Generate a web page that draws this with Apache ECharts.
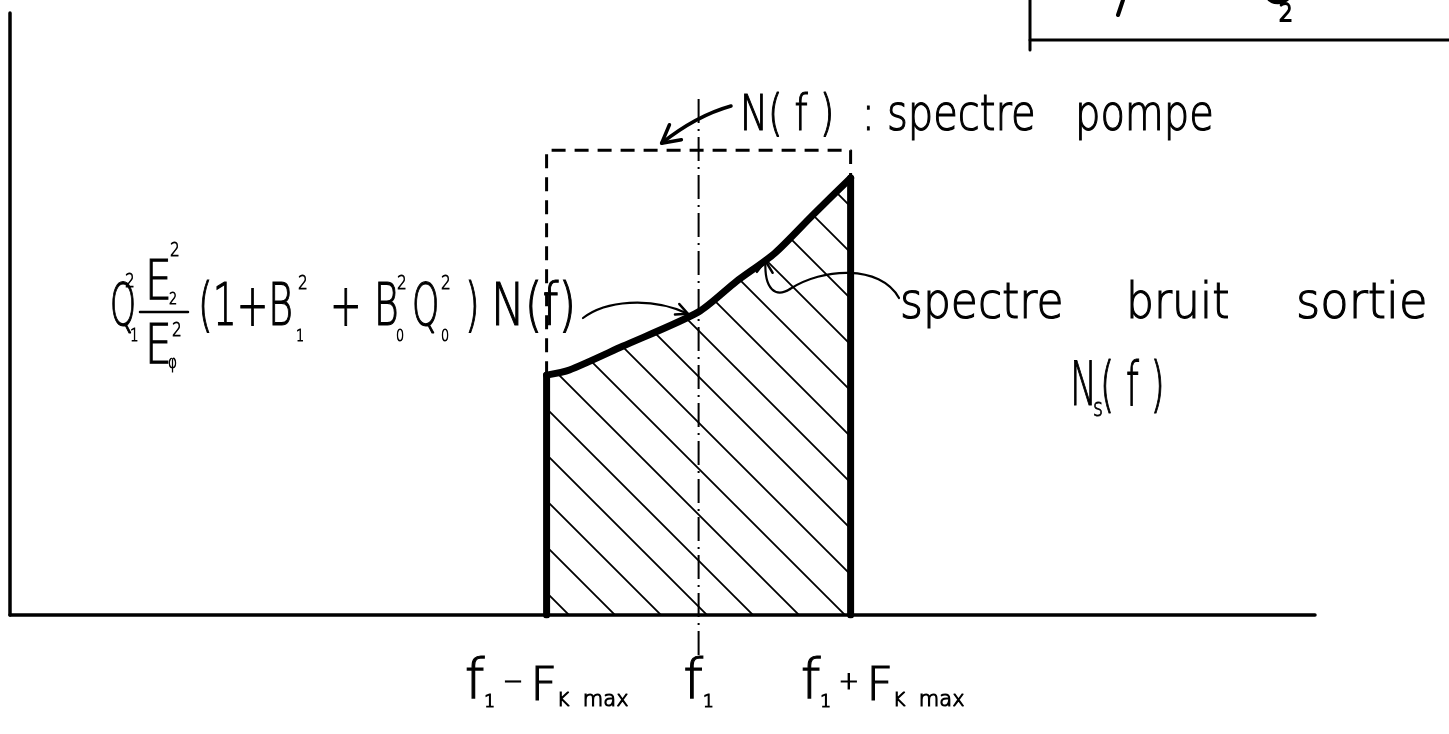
<!DOCTYPE html>
<html>
<head>
<meta charset="utf-8">
<script src="https://cdn.jsdelivr.net/npm/echarts@6/dist/echarts.min.js"></script>
<style>
  html, body { margin: 0; padding: 0; background: #fff; }
  #chart { width: 1449px; height: 734px; }
</style>
</head>
<body>
<div id="chart"></div>
<script>
// Frequency in units of F_K max, measured from the pump frequency f1
const bandEdges = [-1, 1];
// Output noise spectrum N_s(f) over the band (pump level = 1)
const noiseFreq  = [-1, -0.85, -0.5, 0, 0.25, 0.5, 0.75, 1];
const noiseLevel = [0.516, 0.527, 0.578, 0.652, 0.718, 0.778, 0.860, 0.940];
// Pump spectrum N(f): flat over the band
const pumpLevel = 1;
// Centre line through f1 (extends a little past both axes)
const centreLine = [-0.086, 1.118];
// Frequency-axis ticks and their labels
const tickValues = [-1, 0, 1];
const tickLabels = [
  '{f|f}{s|1}{op| − }{F|F}{k|K}{m|  max}',
  '{f|f}{s|1}',
  '{pad|}{f|f}{s|1}{op| + }{F|F}{k|K}{m|  max}'
];

const FONT = '"DejaVu Sans"';
const WEIGHT = 200;
const chart = echarts.init(document.getElementById('chart'), null, { renderer: 'canvas' });

// diagonal hatching tile for the output-noise area
function hatchTile(step, width) {
  const c = document.createElement('canvas');
  c.width = c.height = step;
  const g = c.getContext('2d');
  g.strokeStyle = '#000';
  g.lineWidth = width;
  g.beginPath();
  g.moveTo(-3, -3); g.lineTo(step + 3, step + 3);
  g.moveTo(-3, step - 3); g.lineTo(3, step + 3);
  g.moveTo(step - 3, -3); g.lineTo(step + 3, 3);
  g.stroke();
  return c;
}

const noiseData = noiseFreq.map((f, i) => [f, noiseLevel[i]]);
const first = noiseLevel[0], last = noiseLevel[noiseLevel.length - 1];

const richBase = { fontFamily: FONT, fontWeight: WEIGHT, color: '#000', textBorderColor: '#000', textBorderWidth: 1.2 };

chart.setOption({
  animation: false,
  backgroundColor: '#fff',
  grid: { left: 10, right: 134, top: 13, bottom: 119, containLabel: false },
  xAxis: {
    type: 'value', min: -4.53, max: 4.055,
    axisLine: { show: true, onZero: false, lineStyle: { color: '#000', width: 3.5 } },
    axisTick: { show: false },
    splitLine: { show: false },
    axisLabel: {
      show: true,
      customValues: tickValues,
      margin: 40,
      formatter: v => tickLabels[tickValues.indexOf(v)] || '',
      rich: {
        f:  Object.assign({ fontSize: 56, lineHeight: 56 }, richBase),
        s:  Object.assign({ fontSize: 17, lineHeight: 17, verticalAlign: 'bottom' }, richBase),
        op: Object.assign({ fontSize: 24 }, richBase),
        F:  Object.assign({ fontSize: 46, lineHeight: 46, verticalAlign: 'bottom' }, richBase),
        k:  Object.assign({ fontSize: 19, lineHeight: 19, verticalAlign: 'bottom' }, richBase),
        m:  Object.assign({ fontSize: 21, lineHeight: 21, verticalAlign: 'bottom' }, richBase),
        pad: { width: 64 }
      }
    }
  },
  yAxis: {
    type: 'value', min: 0, max: 1.295,
    axisLine: { show: true, onZero: false, lineStyle: { color: '#000', width: 3.5 } },
    axisTick: { show: false },
    axisLabel: { show: false },
    splitLine: { show: false }
  },
  series: [
    {
      name: 'N_s(f)', type: 'line', data: noiseData, smooth: 0.25,
      symbol: 'none', z: 4,
      lineStyle: { color: '#000', width: 7, cap: 'round', join: 'round' },
      areaStyle: { color: { image: hatchTile(46, 1.8), repeat: 'repeat' }, opacity: 1, origin: 'start' }
    },
    {
      name: 'band edges', type: 'line', symbol: 'none', z: 5,
      data: [[bandEdges[0], 0], [bandEdges[0], first]],
      lineStyle: { color: '#000', width: 7, cap: 'round' }
    },
    {
      name: 'band edges', type: 'line', symbol: 'none', z: 5,
      data: [[bandEdges[1], 0], [bandEdges[1], last]],
      lineStyle: { color: '#000', width: 7, cap: 'round' }
    },
    {
      name: 'N(f)', type: 'line', symbol: 'none', z: 3,
      data: [[bandEdges[0], first], [bandEdges[0], pumpLevel], [bandEdges[1], pumpLevel], [bandEdges[1], last]],
      lineStyle: { color: '#000', width: 3, type: [14, 9] }
    },
    {
      name: 'f1', type: 'line', symbol: 'none', z: 3, clip: false,
      data: [[0, centreLine[0]], [0, centreLine[1]]],
      lineStyle: { color: '#000', width: 2, type: [24, 6, 2, 6] }
    }
  ]
});

const P = v => chart.convertToPixel({ gridIndex: 0 }, v);

function txt(x, y, text, size, sx, bw) {
  return {
    type: 'text', x: x, y: y, scaleX: sx || 1, silent: true, z: 10,
    style: {
      text: text, x: 0, y: 0, fill: '#000',
      stroke: '#000', lineWidth: bw === undefined ? 1.2 : bw,
      font: WEIGHT + ' ' + size + 'px ' + FONT,
      align: 'left', verticalAlign: 'middle', textAlign: 'left', textVerticalAlign: 'middle'
    }
  };
}
function seg(x1, y1, x2, y2, w) {
  return { type: 'line', silent: true, z: 10, shape: { x1, y1, x2, y2 },
           style: { stroke: '#000', lineWidth: w, lineCap: 'round' } };
}
function curve(p0, c1, c2, p1, w) {
  return { type: 'bezierCurve', silent: true, z: 10,
           shape: { x1: p0[0], y1: p0[1], cpx1: c1[0], cpy1: c1[1], cpx2: c2[0], cpy2: c2[1], x2: p1[0], y2: p1[1] },
           style: { stroke: '#000', lineWidth: w, fill: null, lineCap: 'round' } };
}
function head(tip, from, len, spread, w) {
  const a = Math.atan2(tip[1] - from[1], tip[0] - from[0]);
  const p1 = [tip[0] - len * Math.cos(a - spread), tip[1] - len * Math.sin(a - spread)];
  const p2 = [tip[0] - len * Math.cos(a + spread), tip[1] - len * Math.sin(a + spread)];
  return { type: 'polyline', silent: true, z: 10, shape: { points: [p1, tip, p2] },
           style: { stroke: '#000', lineWidth: w, fill: null, lineJoin: 'round', lineCap: 'round' } };
}

// arrow targets on the drawn marks
const pumpTip  = P([-0.243, pumpLevel + 0.015]);
const midTip   = P([-0.07, 0.648]);
const noiseTip = P([0.44, 0.762]);

const g = [];
// pump label and arrow
g.push(txt(740, 117, 'N( f )', 50, 0.75));
g.push(txt(862, 117, ':', 50, 0.75));
g.push(txt(887, 117, 'spectre', 50, 0.8));
g.push(txt(1075, 117, 'pompe', 50, 0.8));
g.push(curve([731, 106], [706, 113], [682, 127], pumpTip, 3.5));
g.push(head(pumpTip, [682, 127], 20, 0.5, 3.5));

// output noise label and its pointer
g.push(txt(900, 305, 'spectre', 50, 0.88));
g.push(txt(1126, 305, 'bruit', 50, 0.88));
g.push(txt(1296, 305, 'sortie', 50, 0.93));
g.push(txt(1070, 389, 'N', 60, 0.6));
g.push(txt(1093, 410, 's', 24, 0.8, 0.8));
g.push(txt(1100, 389, '( f )', 60, 0.61));
g.push(curve([899, 298], [880, 264], [822, 268], [790, 289], 2.2));
g.push(curve([790, 289], [776, 298], [764, 290], noiseTip, 2.2));
g.push(head(noiseTip, [764, 285], 14, 0.6, 2.5));

// formula for the band level
g.push(txt(110, 310, 'Q', 58, 0.57));
g.push(txt(125, 282, '2', 19, 0.8, 0.8));
g.push(txt(130, 337, '1', 17, 0.8, 0.8));
g.push(txt(145, 285, 'E', 55, 0.77));
g.push(txt(170, 251, '2', 19, 0.8, 0.8));
g.push(txt(169, 300, '2', 16, 0.8, 0.8));
g.push(seg(140, 312, 188, 312, 2.5));
g.push(txt(145, 349, 'E', 55, 0.77));
g.push(txt(172, 331, '2', 19, 0.8, 0.8));
g.push(txt(168, 364, 'φ', 17, 0.8, 0.8));
g.push(txt(198, 310, '(1+B', 58, 0.65));
g.push(txt(298, 284, '2', 19, 0.8, 0.8));
g.push(txt(296, 337, '1', 16, 0.8, 0.8));
g.push(txt(330, 310, '+', 58, 0.65));
g.push(txt(374, 310, 'B', 58, 0.65));
g.push(txt(397, 284, '2', 19, 0.8, 0.8));
g.push(txt(396, 337, '0', 16, 0.8, 0.8));
g.push(txt(412, 310, 'Q', 58, 0.6));
g.push(txt(441, 284, '2', 19, 0.8, 0.8));
g.push(txt(441, 337, '0', 16, 0.8, 0.8));
g.push(txt(465, 310, ')', 58, 0.65));
g.push(txt(491, 310, 'N(f)', 58, 0.78));
g.push(curve([583, 318], [605, 301], [650, 296], midTip, 2.2));
g.push(head(midTip, [650, 298], 13, 0.45, 2.5));

// corner of the frame at top right
g.push(seg(1030, 0, 1030, 50, 3));
g.push(seg(1030, 40, 1449, 40, 3));
g.push(seg(1123, 0, 1118, 15, 4));
g.push(txt(1258, -14, 'C', 60, 0.8, 2.5));
g.push(txt(1279, 15, '2', 24, 0.9, 2));

chart.setOption({ graphic: { elements: g } });
</script>
</body>
</html>
